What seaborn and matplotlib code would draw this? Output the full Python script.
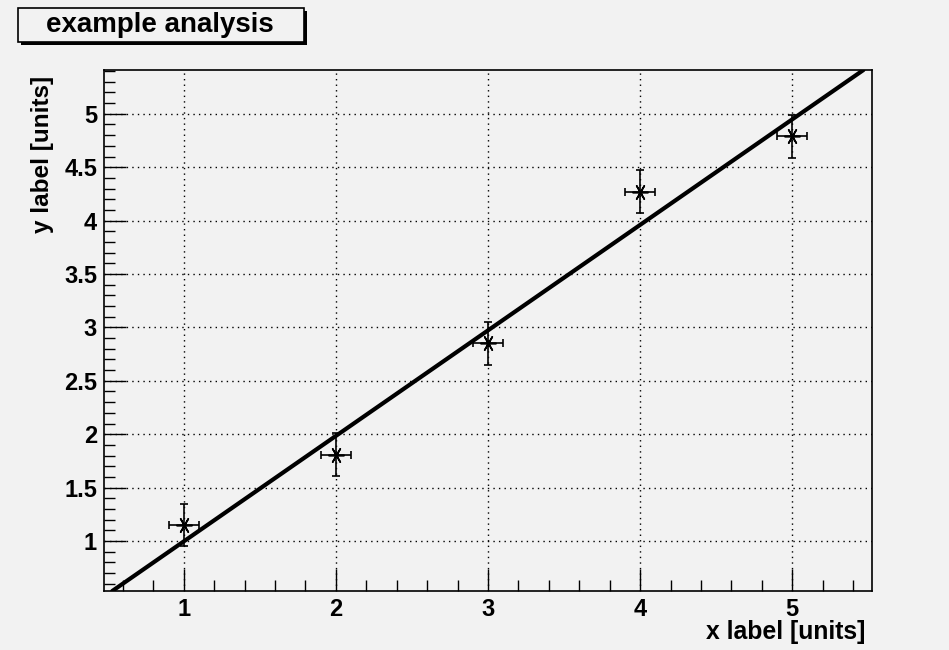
import numpy as np
import pandas as pd
import matplotlib
matplotlib.use("Agg")
import matplotlib.pyplot as plt
from matplotlib.patches import Rectangle
from matplotlib.ticker import MultipleLocator
import seaborn as sns

# data
x_vals = [1, 2, 3, 4, 5]
y_vals = [1.15, 1.81, 2.85, 4.27, 4.79]
x_err = [0.1, 0.1, 0.1, 0.1, 0.1]
y_err = [0.2, 0.2, 0.2, 0.2, 0.2]
fit_slope = 0.988
fit_intercept = 0.008
title = "example analysis"
x_label = "x label [units]"
y_label = "y label [units]"
x_ticks = [1, 2, 3, 4, 5]
x_tick_labels = ["1", "2", "3", "4", "5"]
y_ticks = [1, 1.5, 2, 2.5, 3, 3.5, 4, 4.5, 5]
y_tick_labels = ["1", "1.5", "2", "2.5", "3", "3.5", "4", "4.5", "5"]

df = pd.DataFrame({"x": x_vals, "y": y_vals})

sns.set_theme(style="ticks")
plt.rcParams['font.family'] = ['Liberation Sans', 'DejaVu Sans']
plt.rcParams['text.color'] = 'black'
plt.rcParams['xtick.color'] = 'black'
plt.rcParams['ytick.color'] = 'black'
plt.rcParams['xtick.labelcolor'] = 'black'
plt.rcParams['ytick.labelcolor'] = 'black'
bg = "#f2f2f2"

fig = plt.figure(figsize=(9.49, 6.5), dpi=100, facecolor=bg)
ax = fig.add_axes([104/949, 59/650, (872-104)/949, (591-70)/650])
ax.set_facecolor(bg)

ax.set_xlim(0.476, 5.524)
ax.set_ylim(0.532, 5.41)

ax.grid(True, which="major", color="black", linestyle=(0, (1, 3)), linewidth=1.0)
ax.set_axisbelow(True)

ax.errorbar(x_vals, y_vals, xerr=x_err, yerr=y_err, fmt="none", ecolor="black",
            elinewidth=1.2, capsize=3, capthick=1.2, zorder=3)
sns.scatterplot(data=df, x="x", y="y", ax=ax, marker=(6, 2, 90), s=120,
                color="black", linewidth=1.2, zorder=4)
ax.axline((0, fit_intercept), slope=fit_slope, color="black", linewidth=3, zorder=5)

ax.xaxis.set_minor_locator(MultipleLocator(0.2))
ax.yaxis.set_minor_locator(MultipleLocator(0.1))
ax.set_xticks(x_ticks)
ax.set_xticklabels(x_tick_labels)
ax.set_yticks(y_ticks)
ax.set_yticklabels(y_tick_labels)
ax.tick_params(which="major", direction="in", length=16, width=1, color="black",
               labelsize=17, pad=5, labelcolor="black")
ax.tick_params(which="minor", direction="in", length=8, width=1, color="black")
for lab in ax.get_xticklabels() + ax.get_yticklabels():
    lab.set_fontweight("bold")
for s in ax.spines.values():
    s.set_color("black")
    s.set_linewidth(1.2)

ax.set_xlabel("")
ax.set_ylabel("")
fig.text(865/949, 1 - 632/650, x_label, ha="right", va="center",
         fontsize=17.8, fontweight="bold", color="black")
fig.text(43/949, 1 - 76/650, y_label, ha="center", va="top", rotation=90,
         fontsize=17.5, fontweight="bold", color="black")

# title box with shadow
fig.patches.append(Rectangle((21/949, 1 - 45/650), 286/949, 34/650,
                             transform=fig.transFigure, facecolor="black",
                             edgecolor="none", zorder=1))
fig.patches.append(Rectangle((18/949, 1 - 42/650), 286/949, 34/650,
                             transform=fig.transFigure, facecolor=bg,
                             edgecolor="black", linewidth=1.2, zorder=2))
fig.text(160/949, 1 - 25/650, title, ha="center", va="center",
         fontsize=20, fontweight="bold", color="black", zorder=3)

fig.savefig("out.png", dpi=100, facecolor=bg)
